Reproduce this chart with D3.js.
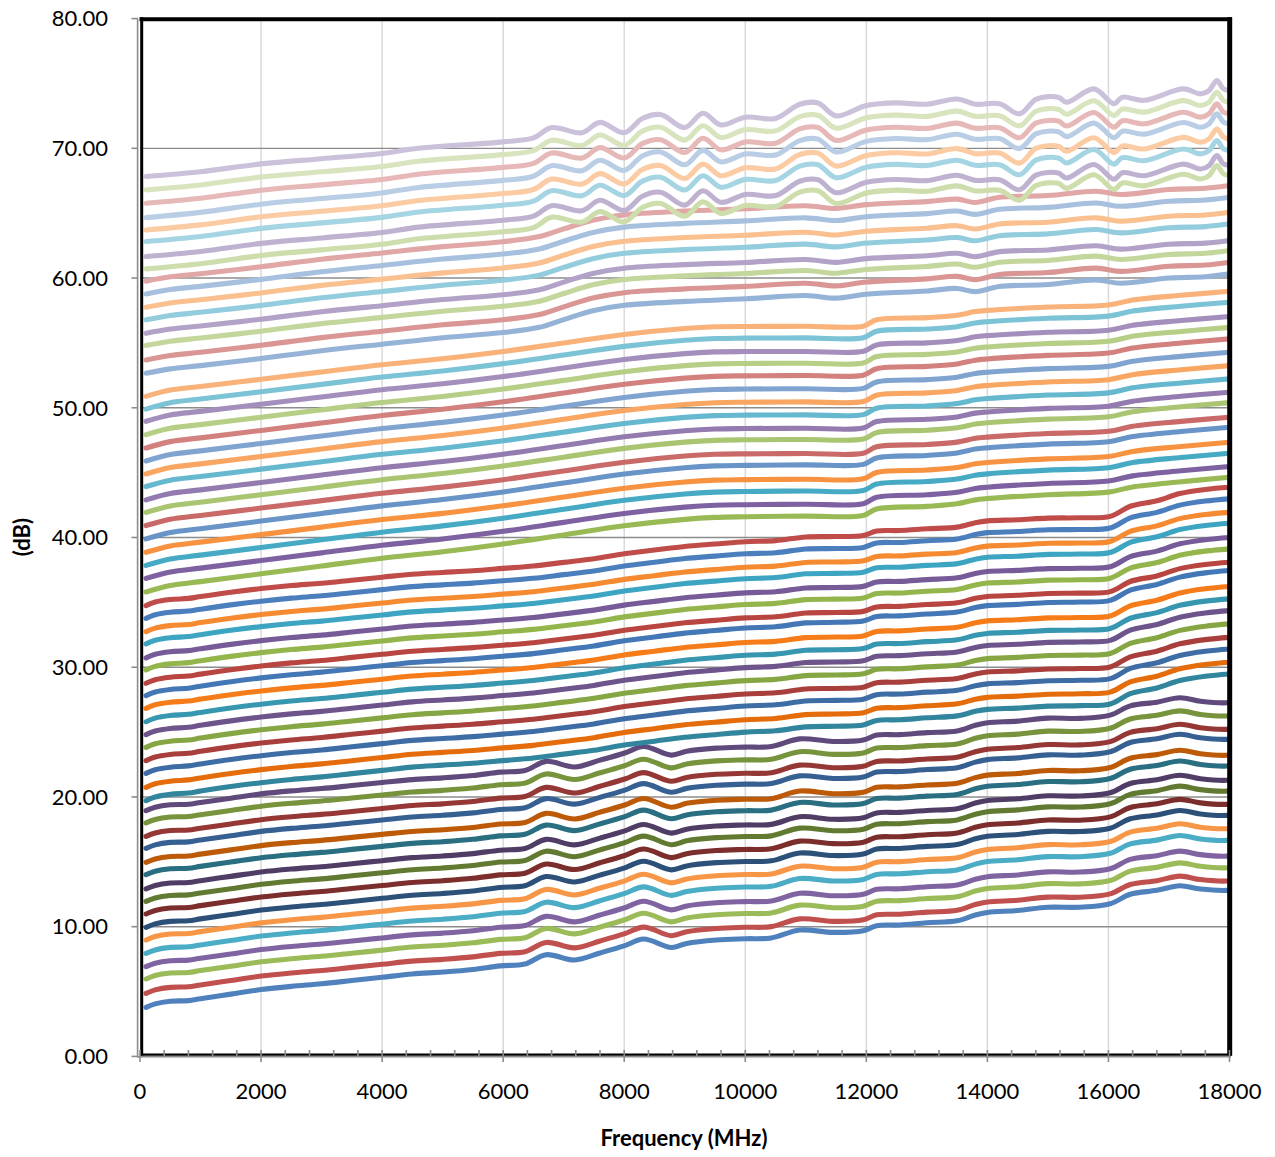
<!DOCTYPE html>
<html>
<head>
<meta charset="utf-8">
<script src="https://cdn.jsdelivr.net/npm/d3@7"></script>
<style>
  body { margin: 0; background: #fff; }
  svg text { font-family: Lato, "Open Sans", sans-serif; fill: #000; }
</style>
</head>
<body>
<div id="chart"></div>
<script>
// ---------------------------------------------
// values
// ---------------------------------------------
// level of every trace at the first point (100 MHz), bottom trace first
const lineStart = [
  3.78, 4.86, 5.97, 6.92, 7.94, 8.97, 9.95, 10.98, 11.95, 12.91, 14.01, 14.96, 16.04, 16.96, 18.0, 18.94,
  19.72, 20.74, 21.82, 22.8, 23.82, 24.8, 25.8, 26.83, 27.81, 28.76, 29.79, 30.72, 31.8, 32.74, 33.77, 34.75,
  35.8, 36.85, 37.85, 38.86, 39.89, 40.92, 41.94, 42.9, 43.93, 44.9, 45.9, 46.9, 47.93, 48.96, 49.9, 50.88,
  52.66, 53.69, 54.8, 55.74, 56.78, 57.75, 58.78, 59.76, 60.71, 61.66, 62.82, 63.71, 64.66, 65.77, 66.8, 67.83
];
// level of every trace at 18000 MHz
const lineEnd = [
  12.83, 13.55, 14.57, 15.47, 16.68, 17.58, 18.61, 19.46, 20.48, 21.31, 22.41, 23.24, 24.47, 25.24, 26.27, 27.29,
  29.48, 30.38, 31.41, 32.3, 33.34, 34.36, 35.27, 36.22, 37.45, 38.09, 39.12, 40.0, 41.1, 41.94, 42.98, 43.87,
  44.64, 45.47, 46.5, 47.34, 48.5, 49.27, 50.4, 51.2, 52.23, 53.25, 54.28, 55.31, 56.2, 57.03, 58.14, 58.98,
  60.32, 61.22, 62.12, 62.9, 64.18, 65.07, 66.23, 67.13, 67.9, 68.67, 69.83, 70.73, 71.89, 72.66, 73.55, 74.45
];

// shape of one reference trace per group, [MHz, dB]
const shapeTrace1 = [
  [100,3.78],[250,4.05],[500,4.25],[800,4.3],[1000,4.45],[1500,4.8],[2000,5.15],[2500,5.4],[3000,5.6],
  [3500,5.85],[4000,6.1],[4500,6.35],[5000,6.5],[5500,6.7],[5950,6.98],[6360,7.12],[6710,7.84],[7180,7.43],
  [7600,7.97],[8010,8.54],[8320,9.05],[8780,8.4],[9030,8.71],[9520,8.97],[10000,9.07],[10430,9.13],
  [10900,9.74],[11450,9.56],[11950,9.69],[12170,10.08],[12550,10.13],[13000,10.3],[13500,10.45],
  [13800,10.9],[14000,11.1],[14500,11.25],[15000,11.5],[15530,11.5],[16030,11.77],[16360,12.5],
  [16800,12.8],[17180,13.16],[17520,12.9],[17960,12.8],[18000,12.83]
];
const shapeTrace17 = [
  [100,19.72],[250,20.0],[500,20.2],[800,20.3],[1000,20.45],[1500,20.8],[2000,21.1],[2500,21.35],
  [3000,21.55],[3500,21.8],[4000,22.05],[4500,22.3],[5000,22.45],[5500,22.6],[6000,22.8],[6500,23.0],
  [7000,23.3],[7500,23.6],[8000,24.0],[8500,24.3],[9000,24.6],[9500,24.8],[10000,25.0],[10500,25.1],
  [11000,25.4],[11500,25.45],[11950,25.55],[12170,25.9],[12550,25.95],[13000,26.1],[13500,26.25],
  [13800,26.6],[14000,26.75],[14500,26.85],[15000,27.0],[15530,27.04],[16030,27.17],[16360,27.96],
  [16800,28.4],[17180,28.97],[17600,29.3],[18000,29.48]
];
const shapeTrace33 = [
  [100,35.8],[500,36.3],[1000,36.6],[2000,37.2],[3000,37.8],[4000,38.4],[5000,38.9],[6000,39.5],
  [7000,40.2],[8000,40.9],[9000,41.4],[9500,41.55],[10000,41.6],[11000,41.65],[11950,41.7],[12170,42.2],
  [13000,42.4],[13500,42.6],[13800,42.9],[14000,43.0],[15000,43.3],[16000,43.5],[16400,43.9],
  [17200,44.3],[18000,44.64]
];
const shapeTrace49 = [
  [100,52.66],[500,53.0],[1000,53.25],[2000,53.8],[3000,54.4],[4000,54.9],[5000,55.4],[6000,55.8],
  [6600,56.2],[7000,56.8],[7500,57.5],[8000,57.9],[9000,58.2],[10000,58.4],[11000,58.65],[11500,58.45],
  [12000,58.75],[13000,59.0],[13500,59.2],[13800,58.95],[14200,59.35],[15000,59.5],[15800,59.85],
  [16200,59.6],[17000,60.0],[17600,60.1],[18000,60.32]
];
const shapeTrace64 = [
  [100,67.83],[1000,68.2],[2000,68.8],[3000,69.2],[4000,69.6],[4600,70.0],[6000,70.5],[6500,70.8],
  [6800,71.6],[7300,71.2],[7600,72.0],[8000,71.2],[8300,72.3],[8600,72.6],[9000,71.6],[9300,72.7],
  [9600,71.8],[10000,72.4],[10500,72.3],[10900,73.4],[11200,73.5],[11500,72.5],[12000,73.3],
  [12500,73.5],[13000,73.4],[13500,73.8],[13800,73.4],[14200,73.44],[14530,72.66],[14810,73.8],
  [15170,73.94],[15310,73.55],[15760,74.58],[16090,73.44],[16230,73.94],[16590,73.7],[17240,74.58],
  [17520,74.2],[17660,74.45],[17790,75.22],[17900,74.58],[18000,74.45]
];
// which reference shape each block of traces follows
const shapes = [shapeTrace1, shapeTrace17, shapeTrace33, shapeTrace49, shapeTrace64];
const shapeFirstTrace = [0, 16, 32, 48, 56];

const xTicks = d3.range(0, 18001, 2000);
const yTicks = d3.range(0, 81, 10);

// ---------------------------------------------
// layout
// ---------------------------------------------
const W = 1275, H = 1157;
const x = d3.scaleLinear().domain([0, 18000]).range([140, 1229.5]);
const y = d3.scaleLinear().domain([0, 80]).range([1056.4, 18.6]);

const svg = d3.select('#chart').append('svg')
    .attr('width', W)
    .attr('height', H);

// office style colours: six accents, darker then lighter per round
const accents = ['#4F81BD', '#C0504D', '#9BBB59', '#8064A2', '#4BACC6', '#F79646'];
const shadeSteps = [0, -0.38, -0.25, -0.15, -0.07, -0.02, 0.15, 0.28, 0.4, 0.5, 0.6];
function seriesColor(i) {
  let c = d3.hsl(accents[i % 6]),
      f = shadeSteps[Math.floor(i / 6)];
  c.l = f < 0 ? c.l * (1 + f) : c.l + (1 - c.l) * f;
  return c.formatHex();
}

// gridlines
svg.append('g').selectAll('line')
  .data(xTicks.filter(d => d > 0 && d < 18000))
  .enter().append('line')
    .attr('x1', d => x(d)).attr('x2', d => x(d))
    .attr('y1', y(80)).attr('y2', y(0))
    .attr('stroke', '#d9d9d9').attr('stroke-width', 1.5);

svg.append('g').selectAll('line')
  .data(yTicks.filter(d => d > 0 && d < 80))
  .enter().append('line')
    .attr('x1', x(0)).attr('x2', x(18000))
    .attr('y1', d => y(d)).attr('y2', d => y(d))
    .attr('stroke', '#8c8c8c').attr('stroke-width', 1.4);

// traces
function traceValues(i) {
  let s = 0;
  shapeFirstTrace.forEach((first, k) => { if (i >= first) s = k; });
  let prof = shapes[s],
      f0 = prof[0][0], f1 = prof[prof.length - 1][0],
      ds = lineStart[i] - prof[0][1],
      de = lineEnd[i] - prof[prof.length - 1][1];
  return prof.map(([f, v]) => [f, v + ds + (de - ds) * (f - f0) / (f1 - f0)]);
}

const line = d3.line()
    .x(d => x(d[0]))
    .y(d => y(d[1]))
    .curve(d3.curveCatmullRom.alpha(0.5));

svg.append('g').selectAll('path')
  .data(d3.range(lineStart.length))
  .enter().append('path')
    .attr('d', i => line(traceValues(i)))
    .attr('fill', 'none')
    .attr('stroke', i => seriesColor(i))
    .attr('stroke-width', 5.1)
    .attr('stroke-linecap', 'round')
    .attr('stroke-linejoin', 'round');

// plot area frame
svg.append('line').attr('x1', 139.5).attr('x2', 1232).attr('y1', 19.2).attr('y2', 19.2)
    .attr('stroke', '#000').attr('stroke-width', 4);
svg.append('line').attr('x1', 1229.7).attr('x2', 1229.7).attr('y1', 17.2).attr('y2', 1055.5)
    .attr('stroke', '#000').attr('stroke-width', 5);
svg.append('line').attr('x1', 141.7).attr('x2', 141.7).attr('y1', 17.2).attr('y2', 1055.5)
    .attr('stroke', '#000').attr('stroke-width', 3);
svg.append('line').attr('x1', 140).attr('x2', 1232).attr('y1', 1054.6).attr('y2', 1054.6)
    .attr('stroke', '#000').attr('stroke-width', 2.4);

// axis lines and ticks
const axisGrey = '#8c8c8c';
svg.append('line').attr('x1', 137.6).attr('x2', 137.6).attr('y1', y(80)).attr('y2', 1057.5)
    .attr('stroke', axisGrey).attr('stroke-width', 1.6);
svg.append('line').attr('x1', 137).attr('x2', 1231).attr('y1', 1056.8).attr('y2', 1056.8)
    .attr('stroke', axisGrey).attr('stroke-width', 1.6);

svg.append('g').selectAll('line')
  .data(yTicks)
  .enter().append('line')
    .attr('x1', 131.5).attr('x2', 138)
    .attr('y1', d => y(d)).attr('y2', d => y(d))
    .attr('stroke', axisGrey).attr('stroke-width', 1.6);

svg.append('g').selectAll('line')
  .data(d3.range(0, 18001, 400))
  .enter().append('line')
    .attr('x1', d => x(d)).attr('x2', d => x(d))
    .attr('y1', 1050)
    .attr('y2', d => d % 2000 === 0 ? 1062 : 1057)
    .attr('stroke', axisGrey).attr('stroke-width', 1.6);

// tick labels
svg.append('g').selectAll('text')
  .data(yTicks)
  .enter().append('text')
    .attr('x', 108)
    .attr('y', d => y(d) + 7.8)
    .attr('text-anchor', 'end')
    .style('font-size', '22px')
    .text(d => d.toFixed(2));

svg.append('g').selectAll('text')
  .data(xTicks)
  .enter().append('text')
    .attr('x', d => x(d))
    .attr('y', 1099)
    .attr('text-anchor', 'middle')
    .style('font-size', '22px')
    .text(d => d);

// axis titles
svg.append('text')
    .attr('x', 684).attr('y', 1146)
    .attr('text-anchor', 'middle')
    .style('font-size', '22px').style('font-weight', 'bold')
    .text('Frequency (MHz)');

svg.append('text')
    .attr('transform', 'translate(30,537) rotate(-90)')
    .attr('text-anchor', 'middle')
    .style('font-size', '22px').style('font-weight', 'bold')
    .text('(dB)');
</script>
</body>
</html>
